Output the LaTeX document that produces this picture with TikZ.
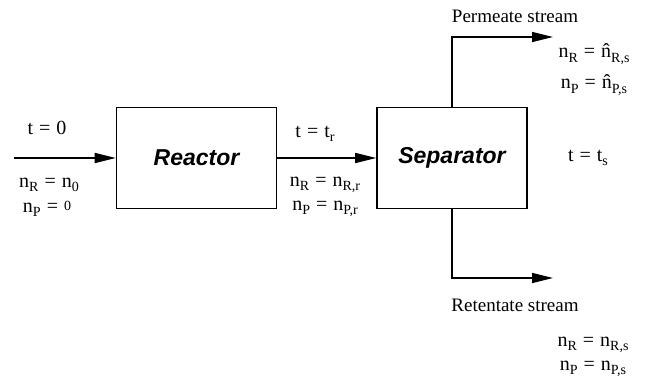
\documentclass[tikz,border=0pt]{standalone}
\usepackage{fontspec}
\setmainfont{Liberation Serif}
\newfontfamily\boxfont{Liberation Sans}
\usetikzlibrary{arrows.meta}
\newcommand\sbs[1]{\raisebox{-0.22em}{\fontsize{14}{15}\selectfont #1}}
\newcommand\smallzero{\raisebox{0.1em}{\fontsize{14}{15}\selectfont 0}}
\newcommand\eqs{\hspace{0.3em}=\hspace{0.3em}}
\begin{document}
\begin{tikzpicture}[x=1pt,y=-1pt,
  box/.style={draw, line width=1.6pt, minimum height=101pt, inner sep=0pt,
    font=\boxfont\bfseries\itshape\fontsize{23}{25}\selectfont},
  lbl/.style={font=\fontsize{20}{22}\selectfont, inner sep=0pt},
  flow/.style={line width=1.6pt, line join=miter, -{Triangle[length=21pt,width=10pt]}}]
\useasboundingbox (0,0) rectangle (654,385);
\node[box, minimum width=160pt] (reac) at (196.5,158) {Reactor};
\node[box, minimum width=150pt] (sep) at (452,158) {Separator};
\coordinate (in) at (14,158);
\coordinate (pturn) at (452,37);
\coordinate (pend) at (553,37);
\coordinate (rturn) at (452,278);
\coordinate (rend) at (553,278);
\draw[flow] (in) -- (reac.west);
\draw[flow] (reac) -- (sep);
\draw[flow] (sep.north) -- (pturn) -- (pend);
\draw[flow] (sep.south) -- (rturn) -- (rend);
% left labels
\node[lbl] (t0) at (47,128) {t\eqs 0};
\node[lbl] (nr0) at (49,185) {n\sbs{R}\eqs n\sbs{0}};
\node[lbl] (np0) at (47,209) {n\sbs{P}\eqs\smallzero};
% middle labels
\node[lbl] (tr) at (315,134) {t\eqs t\sbs{r}};
\node[lbl] (nrr) at (325,185) {n\sbs{R}\eqs n\sbs{R,r}};
\node[lbl] (npr) at (325,209) {n\sbs{P}\eqs n\sbs{P,r}};
% right labels
\node[lbl, font=\fontsize{19}{21}\selectfont] (perm) at (515,16) {Permeate stream};
\node[lbl] (nrh) at (594,54) {n\sbs{R}\eqs\^{n}\sbs{R,s}};
\node[lbl] (nph) at (594,85) {n\sbs{P}\eqs\^{n}\sbs{P,s}};
\node[lbl] (ts) at (588,158) {t\eqs t\sbs{s}};
\node[lbl, font=\fontsize{19}{21}\selectfont] (ret) at (515,305) {Retentate stream};
\node[lbl] (nrs) at (593,345) {n\sbs{R}\eqs n\sbs{R,s}};
\node[lbl] (nps) at (593,369) {n\sbs{P}\eqs n\sbs{P,s}};
\end{tikzpicture}
\end{document}
